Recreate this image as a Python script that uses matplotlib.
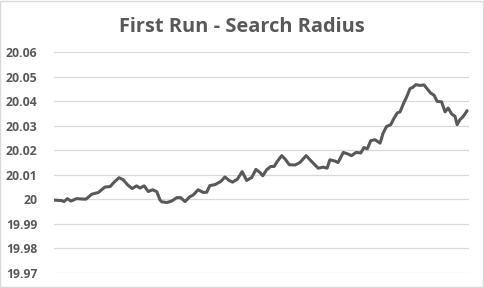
import matplotlib.pyplot as plt
from matplotlib.ticker import FuncFormatter, MultipleLocator
from matplotlib.patches import Rectangle

# iteration number and search radius
iteration = [0.0, 2.2, 2.9, 3.9, 4.9, 6.6, 8.5, 9.3, 11.0, 12.9, 14.8, 16.3,
             17.7, 18.9, 20.1, 21.4, 22.7, 24.0, 25.0, 26.2, 27.4, 28.7, 29.9,
             30.8, 31.3, 32.8, 34.2, 35.7, 36.8, 38.1, 39.5, 40.5, 41.9, 43.4,
             44.4, 45.3, 46.8, 48.5, 49.7, 50.9, 51.9, 53.3, 54.7, 56.0, 57.5,
             58.7, 59.9, 60.7, 61.8, 63.0, 64.0, 64.9, 66.2, 67.2, 68.4, 70.1,
             71.5, 73.3, 74.9, 76.8, 78.3, 79.4, 80.2, 81.7, 82.6, 84.1, 85.6,
             86.5, 87.8, 89.2, 90.1, 91.1, 92.1, 93.3, 94.8, 95.7, 96.7, 97.9,
             98.8, 99.8, 100.6, 101.7, 102.5, 103.5, 104.3, 105.2, 106.4,
             107.6, 108.5, 109.5, 110.5, 111.4, 112.7, 113.7, 114.6, 115.6,
             116.6, 117.2, 118.0, 119.0, 120.1]
radius = [19.9997, 19.9995, 19.9991, 20.0003, 19.9993, 20.0003, 20.0001,
          20.0001, 20.0021, 20.0028, 20.0050, 20.0052, 20.0073, 20.0088,
          20.0080, 20.0059, 20.0044, 20.0055, 20.0046, 20.0055, 20.0032,
          20.0039, 20.0031, 19.9998, 19.9990, 19.9987, 19.9993, 20.0007,
          20.0007, 19.9991, 20.0011, 20.0018, 20.0039, 20.0028, 20.0029,
          20.0056, 20.0060, 20.0073, 20.0091, 20.0077, 20.0070, 20.0082,
          20.0113, 20.0077, 20.0089, 20.0122, 20.0109, 20.0096, 20.0120,
          20.0134, 20.0134, 20.0154, 20.0178, 20.0164, 20.0141, 20.0140,
          20.0150, 20.0178, 20.0154, 20.0127, 20.0131, 20.0127, 20.0161,
          20.0156, 20.0150, 20.0191, 20.0184, 20.0178, 20.0191, 20.0189,
          20.0211, 20.0206, 20.0239, 20.0243, 20.0229, 20.0270, 20.0297,
          20.0304, 20.0329, 20.0352, 20.0356, 20.0393, 20.0416, 20.0451,
          20.0456, 20.0467, 20.0464, 20.0466, 20.0450, 20.0433, 20.0424,
          20.0399, 20.0397, 20.0356, 20.0372, 20.0348, 20.0338, 20.0304,
          20.0324, 20.0338, 20.0361]

grey = '#595959'
plt.rcParams['font.family'] = ['Open Sans', 'DejaVu Sans']

fig = plt.figure(figsize=(4.84, 2.88), dpi=100)
ax = fig.add_axes([0.1116, 0.052, 0.857, 0.7674])

ax.plot(iteration, radius, color=grey, lw=2.2, solid_capstyle='round',
        solid_joinstyle='round')

ax.set_ylim(19.97, 20.06)
ax.set_xlim(0, 120.6)
ax.yaxis.set_major_locator(MultipleLocator(0.01))
ax.yaxis.set_major_formatter(FuncFormatter(
    lambda v, p: f'{v:.2f}'.rstrip('0').rstrip('.')))
ax.set_xticks([])
ax.grid(axis='y', color='#d9d9d9', lw=0.9)
ax.set_axisbelow(True)
for s in ax.spines.values():
    s.set_visible(False)
ax.tick_params(axis='y', length=0, pad=12, labelsize=8.8, labelcolor=grey)
for lbl in ax.get_yticklabels():
    lbl.set_fontweight('bold')

fig.text(0.5, 0.905, 'First Run - Search Radius', ha='center', va='center',
         fontsize=14.4, fontweight='bold', color=grey)

fig.patches.append(Rectangle((0.001, 0.002), 0.997, 0.995,
                             transform=fig.transFigure, fill=False,
                             edgecolor='#d9d9d9', lw=1))

plt.savefig('out.png', dpi=100)
